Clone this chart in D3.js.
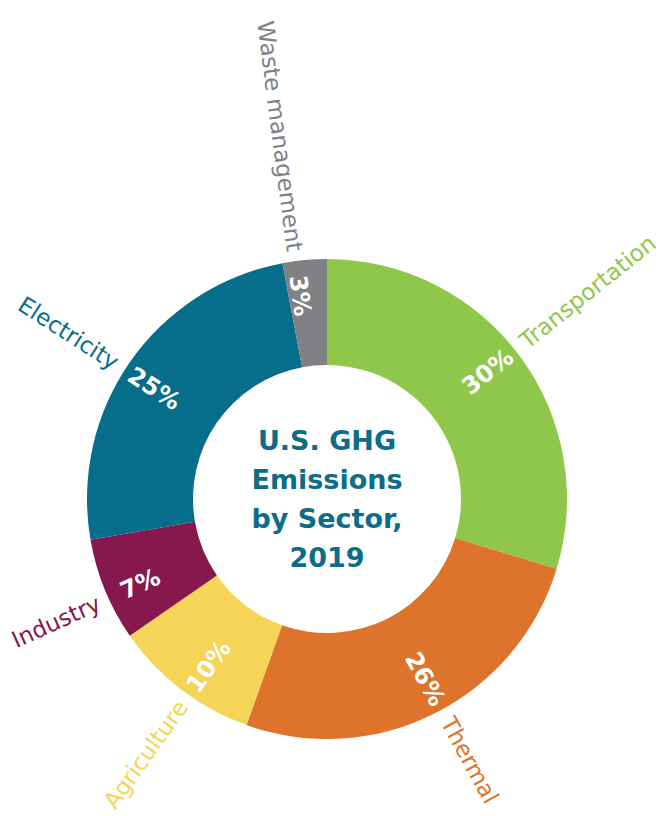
<!DOCTYPE html>
<html lang="en">
<head>
    <meta charset="UTF-8">
    <title>U.S. GHG Emissions by Sector, 2019</title>
    <script src="https://cdn.jsdelivr.net/npm/d3@7/dist/d3.min.js"></script>
    <style>
        body { margin: 0; background: #fff; }
        svg { display: block; }
        .cat { font-family: "DejaVu Sans", sans-serif; font-size: 23px; }
        .pct { font-family: "DejaVu Sans", sans-serif; font-size: 24px; font-weight: bold; fill: #fff; }
        .title { font-family: "DejaVu Sans", sans-serif; font-size: 27px; font-weight: bold; fill: #0b6d89; }
    </style>
</head>
<body>
    <svg id="chart" width="661" height="816"></svg>

    <script>
        // sectors, clockwise from 12 o'clock
        const sectors = ["Transportation", "Thermal", "Agriculture", "Industry", "Electricity", "Waste management"];
        const shares = [30, 26, 10, 7, 25, 3];
        const sectorColors = ["#8fc74b", "#de742b", "#f6d457", "#87184d", "#066e8a", "#808184"];
        const titleLines = ["U.S. GHG", "Emissions", "by Sector,", "2019"];

        const width = 661, height = 816;
        const cx = 327, cy = 499;
        const outerR = 240, innerR = 134;

        const svg = d3.select("#chart");
        const g = svg.append("g").attr("transform", `translate(${cx},${cy})`);

        const color = d3.scaleOrdinal().domain(sectors).range(sectorColors);

        const pie = d3.pie().sort(null).value(d => d.value);
        const arcs = pie(sectors.map((s, i) => ({ name: s, value: shares[i] })));

        const arc = d3.arc().innerRadius(innerR).outerRadius(outerR);

        g.selectAll("path.slice")
            .data(arcs)
            .enter()
            .append("path")
            .attr("class", "slice")
            .attr("d", arc)
            .attr("fill", d => color(d.data.name));

        // labels sit a touch counter-clockwise of the slice middle, like the original
        const nudge = -2;
        function midDeg(d) {
            return (d.startAngle + d.endAngle) / 2 * 180 / Math.PI + nudge;
        }
        function polar(deg, r) {
            const a = deg * Math.PI / 180;
            return [r * Math.sin(a), -r * Math.cos(a)];
        }
        // right half reads outward, left half reads toward the centre
        function rot(deg) {
            return deg < 180 ? deg - 90 : deg + 90;
        }

        // percentage inside ring
        g.selectAll("text.pct")
            .data(arcs)
            .enter()
            .append("text")
            .attr("class", "pct")
            .attr("text-anchor", "middle")
            .attr("dy", "0.36em")
            .attr("transform", d => {
                const deg = midDeg(d);
                const [x, y] = polar(deg, 205);
                return `translate(${x},${y}) rotate(${rot(deg)})`;
            })
            .text(d => d.data.value + "%");

        // sector name outside ring
        g.selectAll("text.cat")
            .data(arcs)
            .enter()
            .append("text")
            .attr("class", "cat")
            .attr("fill", d => color(d.data.name))
            .attr("text-anchor", d => midDeg(d) < 180 ? "start" : "end")
            .attr("dy", "0.36em")
            .attr("transform", d => {
                const deg = midDeg(d);
                const [x, y] = polar(deg, outerR + 10);
                return `translate(${x},${y}) rotate(${rot(deg)})`;
            })
            .text(d => d.data.name);

        // centre title
        const lineH = 39;
        g.append("text")
            .attr("class", "title")
            .attr("text-anchor", "middle")
            .selectAll("tspan")
            .data(titleLines)
            .enter()
            .append("tspan")
            .attr("x", 0)
            .attr("y", (d, i) => -49 + i * lineH)
            .text(d => d);
    </script>
</body>
</html>
